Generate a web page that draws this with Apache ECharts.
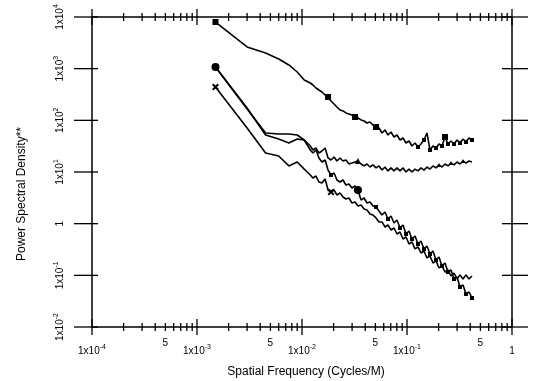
<!DOCTYPE html>
<html>
<head>
<meta charset="utf-8">
<script src="https://cdn.jsdelivr.net/npm/echarts@6.0.0/dist/echarts.min.js"></script>
<style>
html, body { margin: 0; padding: 0; background: #fff; }
#chart { width: 536px; height: 381px; }
</style>
</head>
<body>
<div id="chart"></div>
<script>
// spatial frequency (cycles/m), shared by the four curves
var freq = [
    0.0015, 0.003, 0.0045, 0.006, 0.0075, 0.009, 0.0105, 0.012,
    0.0127, 0.0136, 0.0145, 0.0155, 0.0166, 0.0177, 0.0189, 0.0202, 0.0215, 0.0230,
    0.0246, 0.0262, 0.0280, 0.0299, 0.0320, 0.0341, 0.0365, 0.0390, 0.0416, 0.0444,
    0.0474, 0.0507, 0.0541, 0.0578, 0.0617, 0.0659, 0.0704, 0.0752, 0.0803, 0.0858,
    0.0916, 0.0978, 0.1045, 0.1116, 0.1192, 0.1273, 0.1359, 0.1451, 0.1550, 0.1656,
    0.1768, 0.1889, 0.2017, 0.2154, 0.2301, 0.2457, 0.2624, 0.2803, 0.2994, 0.3197,
    0.3415, 0.3647, 0.3895, 0.4159
];
// power spectral density, one array per curve
var psdSquare = [
    8000, 2630, 2010, 1540, 1180, 862, 604, 528,
    483, 423, 387, 354, 309, 283, 237, 207, 181, 159,
    152, 139, 133, 127, 116, 111, 102, 97.1, 88.8, 92.9,
    81.2, 74.3, 71.1, 56.9, 65.0, 52.0, 59.5, 47.6, 52.0, 41.6,
    45.5, 36.4, 39.8, 31.9, 36.4, 30.5, 34.8, 41.6, 56.9, 26.7,
    31.9, 29.1, 34.8, 31.9, 47.6, 34.8, 39.8, 34.8, 41.6, 36.4,
    43.5, 38.1, 45.5, 41.6
];
var psdTriangle = [
    1080, 166, 56.9, 54.4, 54.4, 52.0, 41.6, 31.9,
    26.7, 29.1, 23.3, 25.5, 29.1, 18.7, 17.1, 19.5, 16.3, 18.7,
    16.3, 17.1, 14.3, 14.9, 15.6, 16.3, 14.3, 13.1, 14.3, 12.5,
    13.7, 12.0, 13.1, 10.9, 12.5, 10.5, 12.0, 10.5, 12.0, 10.5,
    12.0, 10.0, 11.4, 10.0, 11.4, 10.5, 12.0, 10.9, 12.5, 11.4,
    13.1, 12.0, 13.7, 12.5, 14.3, 13.1, 14.9, 13.7, 15.6, 14.3,
    16.3, 14.9, 16.3, 15.6
];
var psdCircle = [
    1080, 173, 52.0, 43.5, 36.4, 43.5, 41.6, 26.7,
    23.3, 26.7, 18.7, 15.6, 17.1, 10.9, 8.75, 9.57, 7.00, 6.41,
    7.00, 5.60, 5.86, 4.90, 5.36, 4.49, 2.87, 3.14, 2.51, 2.63,
    2.20, 2.10, 1.76, 1.47, 1.68, 1.23, 1.41, 1.03, 1.18, 0.825,
    0.943, 0.631, 0.721, 0.505, 0.577, 0.404, 0.462, 0.324, 0.370, 0.259,
    0.296, 0.198, 0.226, 0.152, 0.173, 0.116, 0.127, 0.0850, 0.0929, 0.0595,
    0.0650, 0.0436, 0.0476, 0.0364
];
var psdCross = [
    442, 71.1, 23.3, 20.4, 13.1, 15.6, 11.4, 8.75,
    7.66, 8.37, 6.41, 6.13, 7.32, 4.49, 4.10, 4.49, 3.59, 3.92,
    3.28, 3.00, 3.14, 2.51, 2.63, 2.20, 2.30, 1.92, 1.84, 1.54,
    1.47, 1.29, 1.08, 1.08, 0.862, 0.943, 0.754, 0.825, 0.631, 0.690,
    0.505, 0.552, 0.404, 0.442, 0.324, 0.354, 0.271, 0.296, 0.217, 0.237,
    0.173, 0.190, 0.139, 0.152, 0.116, 0.127, 0.0971, 0.111, 0.0850, 0.102,
    0.0850, 0.102, 0.0850, 0.0971
];
// which points carry a marker (big ones, then the small blobs of the dense tail)
var markSquare = [0, 13, 22, 29, 52];
var markSquareSmall = [43, 45, 47, 49, 51, 53, 55, 57, 59, 61];
var markTriangle = [23];
var markTriangleSmall = [50, 54, 58];
var markCircle = [0, 23];
var markCircleSmall = [14, 29, 33, 37, 39, 41, 43, 45, 47, 49, 51, 53, 55, 57, 59, 61];
var markCross = [0, 14];
var markCrossSmall = [];

// axis ticks
var xMajor = [1e-4, 1e-3, 1e-2, 1e-1, 1];
var xMinorSteps = [2, 3, 4, 5, 6, 7, 8, 9];
var xFiveLabels = [5e-4, 5e-3, 5e-2, 5e-1];
var yMajor = [1e-2, 1e-1, 1, 10, 100, 1000, 10000];

var FONT = '"Liberation Sans", Arial, Helvetica, sans-serif';
var crossPath = 'path://M0,2L2,0L5,3L8,0L10,2L7,5L10,8L8,10L5,7L2,10L0,8L3,5Z';

function buildData(psd, marks, symbol, size, marks2, symbol2, size2){
    return psd.map(function(v, i){
        var item = {value: [freq[i], v]};
        if (marks.indexOf(i) >= 0){
            item.symbol = symbol;
            item.symbolSize = size;
        } else if (marks2.indexOf(i) >= 0){
            item.symbol = symbol2;
            item.symbolSize = size2;
        }
        return item;
    });
}

function lineSeries(data){
    return {
        type: 'line',
        data: data,
        symbol: 'none',
        lineStyle: {color: '#000', width: 1.6},
        itemStyle: {color: '#000'},
        emphasis: {disabled: true},
        z: 3
    };
}

// tick items: [x, y, kind]
var tickItems = [];
xMajor.forEach(function(v){
    tickItems.push([v, 1e-2, 0]);
    tickItems.push([v, 1e4, 0]);
});
for (var d = 0; d < xMajor.length - 1; d++){
    xMinorSteps.forEach(function(m){
        tickItems.push([xMajor[d] * m, 1e-2, 1]);
        tickItems.push([xMajor[d] * m, 1e4, 1]);
    });
}
yMajor.forEach(function(v){
    tickItems.push([1e-4, v, 2]);
    tickItems.push([1, v, 3]);
});
xFiveLabels.forEach(function(v){
    tickItems.push([v, 1e-2, 4]);
});

function renderTick(params, api){
    var p = api.coord([api.value(0), api.value(1)]);
    var kind = api.value(2);
    var st = {stroke: '#000', lineWidth: 1.3};
    if (kind === 0){
        return {type: 'line', shape: {x1: p[0], y1: p[1] - 8, x2: p[0], y2: p[1] + 8}, style: st};
    } else if (kind === 1){
        return {type: 'line', shape: {x1: p[0], y1: p[1] - 4, x2: p[0], y2: p[1] + 4}, style: st};
    } else if (kind === 2){
        return {type: 'line', shape: {x1: p[0] - 18, y1: p[1], x2: p[0] + 6, y2: p[1]}, style: st};
    } else if (kind === 3){
        return {type: 'line', shape: {x1: p[0] - 10, y1: p[1], x2: p[0] + 16, y2: p[1]}, style: st};
    }
    return {
        type: 'text', x: p[0], y: p[1] + 16,
        style: {text: '5', fill: '#000', font: '10px ' + FONT, align: 'center', verticalAlign: 'middle'}
    };
}

function powLabel(v){
    var e = Math.round(Math.log10(v));
    if (e === 0) return '1';
    return '1x10{s|' + e + '}';
}

var labelRich = {s: {fontSize: 7, fontFamily: FONT, color: '#000', verticalAlign: 'top', lineHeight: 8}};
var frameLine = {show: true, onZero: false, lineStyle: {color: '#000', width: 1.5}};

var myChart = echarts.init(document.getElementById('chart'), null, {renderer: 'canvas'});
var option = {
    animation: false,
    backgroundColor: '#fff',
    grid: {left: 92, right: 24, top: 17, bottom: 54, containLabel: false},
    xAxis: [{
        type: 'log', logBase: 10, min: 1e-4, max: 1, interval: 1,
        position: 'bottom',
        axisLine: frameLine,
        axisTick: {show: false},
        splitLine: {show: false},
        axisLabel: {
            margin: 17, color: '#000', fontSize: 10, fontFamily: FONT, lineHeight: 14,
            showMinLabel: true, showMaxLabel: true,
            formatter: powLabel, rich: labelRich
        }
    }, {
        type: 'log', logBase: 10, min: 1e-4, max: 1, interval: 1,
        position: 'top',
        axisLine: frameLine,
        axisTick: {show: false},
        splitLine: {show: false},
        axisLabel: {show: false}
    }],
    yAxis: [{
        type: 'log', logBase: 10, min: 1e-2, max: 1e4, interval: 1,
        position: 'left',
        axisLine: frameLine,
        axisTick: {show: false},
        splitLine: {show: false},
        axisLabel: {
            margin: 25, rotate: 90, color: '#000', fontSize: 10, fontFamily: FONT, lineHeight: 14,
            showMinLabel: true, showMaxLabel: true,
            formatter: powLabel, rich: labelRich
        }
    }, {
        type: 'log', logBase: 10, min: 1e-2, max: 1e4, interval: 1,
        position: 'right',
        axisLine: frameLine,
        axisTick: {show: false},
        splitLine: {show: false},
        axisLabel: {show: false}
    }],
    graphic: [{
        type: 'text', x: 306, y: 372,
        style: {text: 'Spatial Frequency (Cycles/M)', fill: '#000', font: '12px ' + FONT, align: 'center', verticalAlign: 'middle'}
    }, {
        type: 'text', x: 22, y: 194, rotation: Math.PI / 2,
        style: {text: 'Power Spectral Density**', fill: '#000', font: '12px ' + FONT, align: 'center', verticalAlign: 'middle'}
    }],
    series: [
        lineSeries(buildData(psdSquare, markSquare, 'rect', 6, markSquareSmall, 'rect', 4)),
        lineSeries(buildData(psdTriangle, markTriangle, 'triangle', 6, markTriangleSmall, 'triangle', 4)),
        lineSeries(buildData(psdCircle, markCircle, 'circle', 8, markCircleSmall, 'rect', 4)),
        lineSeries(buildData(psdCross, markCross, crossPath, 7, markCrossSmall, 'rect', 4)),
        {
            type: 'custom',
            data: tickItems,
            renderItem: renderTick,
            clip: false,
            silent: true,
            z: 4
        }
    ]
};
myChart.setOption(option);
</script>
</body>
</html>
